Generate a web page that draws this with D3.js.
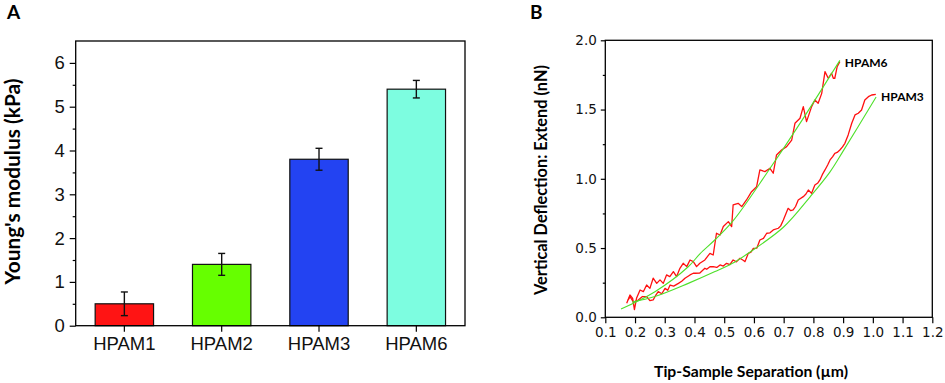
<!DOCTYPE html>
<meta charset="utf-8">
<style>
  body { margin: 0; background: #fff; }
  svg { font-family: Lato, "Open Sans", sans-serif; }
  .frame { fill: none; stroke: #000; stroke-width: 1.3; }
  .axis path { display: none; }
  .axis line { stroke: #000; stroke-width: 1.2; }
  .axis text { fill: #111; }
  .title { font-weight: bold; fill: #000; }
</style>
<body>
<script src="https://d3js.org/d3.v7.min.js"></script>
<script>

// Panel A: Young's modulus per gel
var categories = ["HPAM1", "HPAM2", "HPAM3", "HPAM6"],
    modulus = [0.5, 1.4, 3.8, 5.4],
    modulusErr = [0.27, 0.25, 0.25, 0.2],
    barColors = ["#ff1414", "#66ff00", "#2343f2", "#7dfde0"],
    modulusTicks = [0, 1, 2, 3, 4, 5, 6];

// Panel B: force curves (raw trace + fit), x in µm, y in nN
var hpam6Raw = [
  [0.172,0.101],[0.183,0.161],[0.192,0.137],[0.198,0.055],[0.205,0.137],[0.217,0.197],
  [0.228,0.185],[0.239,0.233],[0.250,0.209],[0.261,0.282],[0.273,0.245],[0.284,0.270],
  [0.295,0.245],[0.306,0.306],[0.317,0.294],[0.329,0.330],[0.340,0.294],[0.351,0.354],
  [0.362,0.390],[0.374,0.366],[0.385,0.414],[0.396,0.402],[0.407,0.366],[0.418,0.390],
  [0.435,0.414],[0.452,0.462],[0.463,0.450],[0.474,0.607],[0.486,0.594],[0.497,0.655],
  [0.514,0.691],[0.525,0.655],[0.530,0.811],[0.547,0.823],[0.559,0.799],[0.575,0.847],
  [0.592,0.907],[0.609,0.943],[0.620,1.064],[0.637,1.052],[0.654,1.076],[0.665,1.040],
  [0.676,1.172],[0.693,1.208],[0.710,1.232],[0.727,1.280],[0.738,1.401],[0.755,1.437],
  [0.766,1.521],[0.777,1.413],[0.794,1.521],[0.805,1.569],[0.816,1.545],[0.828,1.617],
  [0.839,1.774],[0.850,1.726],[0.861,1.762],[0.867,1.726],[0.872,1.726],[0.880,1.810],
  [0.889,1.846]
];
var hpam3Raw = [
  [0.177,0.125],[0.183,0.149],[0.195,0.110],[0.211,0.125],[0.225,0.150],[0.239,0.149],
  [0.250,0.120],[0.261,0.125],[0.270,0.160],[0.278,0.185],[0.290,0.170],[0.301,0.209],
  [0.310,0.195],[0.318,0.233],[0.330,0.225],[0.346,0.245],[0.357,0.260],[0.368,0.282],
  [0.385,0.306],[0.396,0.318],[0.402,0.318],[0.418,0.320],[0.435,0.354],[0.441,0.347],
  [0.452,0.365],[0.463,0.366],[0.475,0.360],[0.486,0.378],[0.497,0.370],[0.508,0.390],
  [0.519,0.380],[0.530,0.414],[0.541,0.400],[0.553,0.426],[0.565,0.410],[0.570,0.402],
  [0.581,0.462],[0.590,0.470],[0.598,0.498],[0.610,0.500],[0.620,0.558],[0.632,0.570],
  [0.643,0.607],[0.654,0.610],[0.665,0.631],[0.682,0.643],[0.690,0.660],[0.699,0.703],
  [0.715,0.787],[0.724,0.770],[0.732,0.775],[0.740,0.800],[0.749,0.847],[0.766,0.871],
  [0.775,0.890],[0.783,0.919],[0.794,0.895],[0.805,0.955],[0.815,0.970],[0.822,0.992],
  [0.830,1.030],[0.839,1.064],[0.848,1.100],[0.856,1.136],[0.865,1.160],[0.872,1.184],
  [0.880,1.190],[0.889,1.208],[0.898,1.230],[0.906,1.256],[0.917,1.317],[0.929,1.401],
  [0.940,1.461],[0.951,1.473],[0.962,1.497],[0.973,1.569],[0.985,1.593],[0.996,1.605],
  [1.010,1.610]
];
var hpam6Fit = [
  [0.153,0.060],[0.267,0.185],[0.379,0.365],[0.419,0.460],[0.469,0.560],[0.531,0.700],
  [0.643,1.040],[0.755,1.400],[0.889,1.855]
];
var hpam3Fit = [
  [0.190,0.110],[0.267,0.150],[0.379,0.245],[0.469,0.330],[0.536,0.400],[0.586,0.470],
  [0.699,0.650],[0.789,0.870],[0.856,1.050],[0.900,1.200],[1.011,1.590]
];
var curveLabels = [["HPAM6", 0.889, 1.855], ["HPAM3", 1.011, 1.61]];
var sepTicks = [0.1, 0.2, 0.3, 0.4, 0.5, 0.6, 0.7, 0.8, 0.9, 1.0, 1.1, 1.2],
    deflTicks = [0, 0.5, 1.0, 1.5, 2.0];

var svg = d3.select("body").append("svg")
    .attr("width", 945)
    .attr("height", 383);

// shrink/grow a title so it spans the same length as in the original figure
function fitText(sel, len) {
  var w = sel.node().getComputedTextLength(),
      fs = parseFloat(sel.style("font-size"));
  if (w > 0) sel.style("font-size", (fs * len / w).toFixed(2) + "px");
}

// ---------- panel A ----------
var a = {left: 75.7, right: 465, top: 41, bottom: 325.7};

var xA = d3.scaleBand().domain(categories).range([a.left, a.right]).paddingInner(0.4).paddingOuter(0.2);
var yA = d3.scaleLinear().domain([0, 6.5]).range([a.bottom, a.top]);

svg.append("text").attr("class", "title")
    .attr("x", 7).attr("y", 18.5)
    .style("font-size", "19px")
    .text("A");

svg.append("g").selectAll("rect")
    .data(modulus)
    .enter().append("rect")
    .attr("x", function(d, i) { return xA(categories[i]); })
    .attr("y", function(d) { return yA(d); })
    .attr("width", xA.bandwidth())
    .attr("height", function(d) { return yA(0) - yA(d); })
    .attr("fill", function(d, i) { return barColors[i]; })
    .attr("stroke", "#111")
    .attr("stroke-width", 1.2);

// error bars
var err = svg.append("g").attr("stroke", "#111").attr("stroke-width", 1.4);
modulus.forEach(function(d, i) {
  var cx = xA(categories[i]) + xA.bandwidth() / 2,
      lo = yA(d - modulusErr[i]), hi = yA(d + modulusErr[i]);
  err.append("line").attr("x1", cx).attr("x2", cx).attr("y1", lo).attr("y2", hi);
  err.append("line").attr("x1", cx - 3.5).attr("x2", cx + 3.5).attr("y1", lo).attr("y2", lo);
  err.append("line").attr("x1", cx - 3.5).attr("x2", cx + 3.5).attr("y1", hi).attr("y2", hi);
});

// minor y ticks
svg.append("g").attr("class", "axis")
    .attr("transform", "translate(" + a.left + ",0)")
    .call(d3.axisLeft(yA).tickValues(d3.range(0.5, 6.5, 1)).tickSize(3).tickFormat(""));

svg.append("g").attr("class", "axis")
    .attr("transform", "translate(" + a.left + ",0)")
    .call(d3.axisLeft(yA).tickValues(modulusTicks).tickSize(6).tickPadding(5).tickFormat(d3.format("d")))
    .selectAll("text").style("font-size", "18.5px");

svg.append("g").attr("class", "axis")
    .attr("transform", "translate(0," + a.bottom + ")")
    .call(d3.axisBottom(xA).tickSize(6).tickPadding(5))
    .selectAll("text").style("font-size", "18.5px");

svg.append("rect").attr("class", "frame")
    .attr("x", a.left).attr("y", a.top)
    .attr("width", a.right - a.left).attr("height", a.bottom - a.top);

var titleA = svg.append("text").attr("class", "title")
    .attr("transform", "translate(20,181.5) rotate(-90)")
    .attr("text-anchor", "middle")
    .style("font-size", "19px")
    .text("Young's modulus (kPa)");
fitText(titleA, 206);

// ---------- panel B ----------
var b = {left: 605.3, right: 932.3, top: 40.3, bottom: 317.3};

var xB = d3.scaleLinear().domain([0.1, 1.2]).range([b.left, b.right]);
var yB = d3.scaleLinear().domain([0, 2]).range([b.bottom, b.top]);

svg.append("text").attr("class", "title")
    .attr("x", 530).attr("y", 18.5)
    .style("font-size", "19px")
    .text("B");

var line = d3.line().x(function(d) { return xB(d[0]); }).y(function(d) { return yB(d[1]); });
var smooth = d3.line().curve(d3.curveCatmullRom)
    .x(function(d) { return xB(d[0]); }).y(function(d) { return yB(d[1]); });

svg.append("g").selectAll("path")
    .data([hpam6Raw, hpam3Raw])
    .enter().append("path")
    .attr("d", line)
    .attr("fill", "none")
    .attr("stroke", "#ff1010")
    .attr("stroke-width", 1.3)
    .attr("stroke-linejoin", "round");

svg.append("g").selectAll("path")
    .data([hpam6Fit, hpam3Fit])
    .enter().append("path")
    .attr("d", smooth)
    .attr("fill", "none")
    .attr("stroke", "#4ee02a")
    .attr("stroke-width", 1.1);

svg.append("g").selectAll("text")
    .data(curveLabels)
    .enter().append("text")
    .attr("class", "title")
    .attr("x", function(d) { return xB(d[1]) + 5; })
    .attr("y", function(d) { return yB(d[2]) + 7; })
    .style("font-size", "12px")
    .text(function(d) { return d[0]; });

svg.append("g").attr("class", "axis")
    .attr("transform", "translate(" + b.left + ",0)")
    .call(d3.axisLeft(yB).tickValues(d3.range(0.25, 2, 0.5)).tickSize(2.5).tickFormat(""));

svg.append("g").attr("class", "axis")
    .attr("transform", "translate(" + b.left + ",0)")
    .call(d3.axisLeft(yB).tickValues(deflTicks).tickSize(4.5).tickPadding(4).tickFormat(d3.format(".1f")))
    .selectAll("text").style("font-family", "'DejaVu Sans'").style("font-size", "13.5px");

svg.append("g").attr("class", "axis")
    .attr("transform", "translate(0," + b.bottom + ")")
    .call(d3.axisBottom(xB).tickValues(sepTicks).tickSize(6).tickPadding(4).tickFormat(d3.format(".1f")))
    .selectAll("text").style("font-family", "'DejaVu Sans'").style("font-size", "13.5px");

svg.append("rect").attr("class", "frame")
    .attr("x", b.left).attr("y", b.top)
    .attr("width", b.right - b.left).attr("height", b.bottom - b.top);

var titleBy = svg.append("text").attr("class", "title")
    .attr("transform", "translate(547,180) rotate(-90)")
    .attr("text-anchor", "middle")
    .style("font-size", "15px")
    .text("Vertical Deflection: Extend (nN)");
fitText(titleBy, 230);

var titleBx = svg.append("text").attr("class", "title")
    .attr("x", 751)
    .attr("y", 377)
    .attr("text-anchor", "middle")
    .style("font-size", "15px")
    .text("Tip-Sample Separation (µm)");
fitText(titleBx, 194);

</script>
</body>
